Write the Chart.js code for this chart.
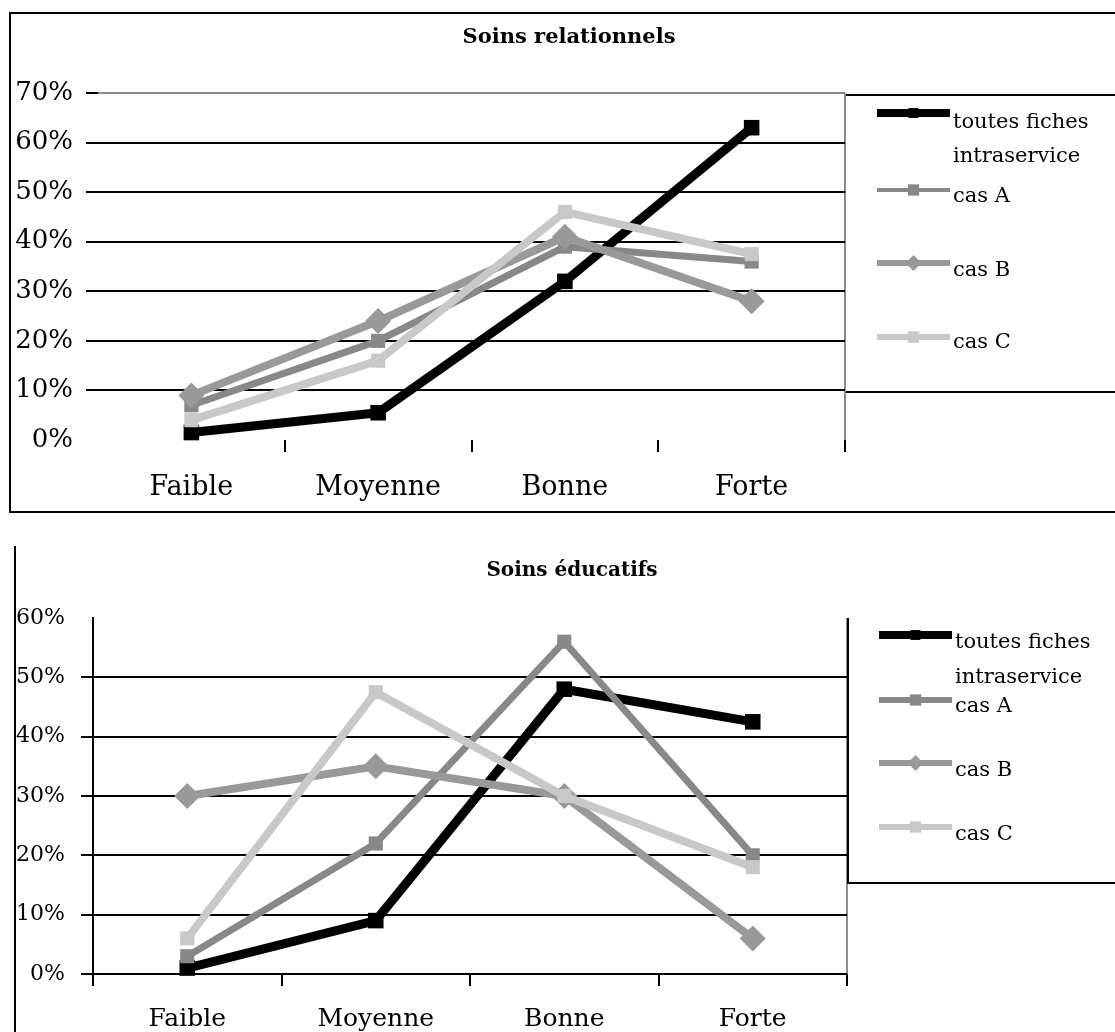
<!DOCTYPE html>
<html>
<head>
<meta charset="utf-8">
<title>Soins relationnels / Soins éducatifs</title>
<script src="https://cdn.jsdelivr.net/npm/chart.js@4.4.1/dist/chart.umd.min.js"></script>
<style>
  html, body { margin: 0; padding: 0; background: #fff; width: 1115px; height: 1032px; overflow: hidden; }
  .box { position: absolute; }
  #frame1 { left: 9px; top: 12px; width: 1200px; height: 501px; border: 2px solid #000; box-sizing: border-box; pointer-events: none; }
  #frame2 { left: 14px; top: 546px; width: 2px; height: 486px; background: #000; pointer-events: none; }
  #wrap1 { left: 0; top: 0; width: 1115px; height: 520px; }
  #wrap2 { left: 0; top: 520px; width: 1115px; height: 512px; }
  canvas { display: block; }
</style>
</head>
<body>
<div id="wrap1" class="box"><canvas id="relChart" width="1115" height="520"></canvas></div>
<div id="wrap2" class="box"><canvas id="eduChart" width="1115" height="512"></canvas></div>
<div id="frame1" class="box"></div>
<div id="frame2" class="box"></div>
<script>
// Categories (niveau) shared by both charts
const categories = ['Faible', 'Moyenne', 'Bonne', 'Forte'];
const seriesNames = ['toutes fiches intraservice', 'cas A', 'cas B', 'cas C'];
const legendLines = [['toutes fiches', 'intraservice'], ['cas A'], ['cas B'], ['cas C']];

// Soins relationnels (%)
const relToutes = [1.5, 5.5, 32, 63];
const relCasA = [7, 20, 39, 36];
const relCasB = [9, 24, 41, 28];
const relCasC = [4, 16, 46, 37.5];
const relTicks = [0, 10, 20, 30, 40, 50, 60, 70];

// Soins éducatifs (%)
const eduToutes = [1, 9, 48, 42.5];
const eduCasA = [3, 22, 56, 20];
const eduCasB = [30, 35, 30, 6];
const eduCasC = [6, 47.5, 30, 18];
const eduTicks = [0, 10, 20, 30, 40, 50, 60];

const CLEAR = 'rgba(0,0,0,0)';
const EDGE = '#8a8a8a';

const seriesStyles = [
  { color: '#000000', width: 9, point: 'rect', radius: 11, legendWidth: 8, legendRadius: 7 },
  { color: '#888888', width: 7, point: 'rect', radius: 10, legendWidth: 4, legendRadius: 8 },
  { color: '#999999', width: 8, point: 'rectRot', radius: 13, legendWidth: 6, legendRadius: 8 },
  { color: '#c8c8c8', width: 8, point: 'rect', radius: 10, legendWidth: 6, legendRadius: 8 }
];

function drawMarker(ctx, style, x, y, r) {
  ctx.beginPath();
  if (style === 'rectRot') {
    ctx.moveTo(x, y - r); ctx.lineTo(x + r, y); ctx.lineTo(x, y + r); ctx.lineTo(x - r, y);
    ctx.closePath();
  } else {
    const s = r * Math.SQRT1_2;
    ctx.rect(x - s, y - s, 2 * s, 2 * s);
  }
  ctx.fill();
}

// Draws the chart title, the legend box and its entries
const sheetDecor = {
  id: 'sheetDecor',
  afterDraw(chart, args, o) {
    const ctx = chart.ctx;
    ctx.save();
    ctx.fillStyle = '#000';
    ctx.font = 'bold ' + o.titleSize + 'px "DejaVu Serif"';
    ctx.textAlign = 'center';
    ctx.textBaseline = 'middle';
    ctx.fillText(o.title, o.titleX, o.titleY);

    ctx.strokeStyle = '#000';
    ctx.lineWidth = 2;
    o.frameLines.forEach(([x1, y1, x2, y2]) => {
      ctx.beginPath(); ctx.moveTo(x1, y1); ctx.lineTo(x2, y2); ctx.stroke();
    });

    chart.data.datasets.forEach((ds, i) => {
      const st = seriesStyles[i];
      const row = o.rows[i];
      ctx.strokeStyle = ds.borderColor;
      ctx.fillStyle = ds.borderColor;
      ctx.lineWidth = (o.sampleWidths && o.sampleWidths[i]) || st.legendWidth;
      ctx.lineCap = 'butt';
      ctx.beginPath();
      ctx.moveTo(o.sampleX1, row.lineY);
      ctx.lineTo(o.sampleX2, row.lineY);
      ctx.stroke();
      drawMarker(ctx, ds.pointStyle, (o.sampleX1 + o.sampleX2) / 2, row.lineY, st.legendRadius);

      ctx.fillStyle = '#000';
      ctx.font = '21px "DejaVu Serif"';
      ctx.textAlign = 'left';
      ctx.textBaseline = 'middle';
      legendLines[i].forEach((txt, k) => ctx.fillText(txt, o.textX, row.textY[k]));
    });
    ctx.restore();
  }
};

function buildChart(canvasId, p) {
  const canvas = document.getElementById(canvasId);
  const W = canvas.width, H = canvas.height;
  return new Chart(canvas, {
    type: 'line',
    data: {
      labels: categories,
      datasets: p.values.map((vals, i) => ({
        label: seriesNames[i],
        data: vals,
        borderColor: seriesStyles[i].color,
        backgroundColor: seriesStyles[i].color,
        borderWidth: seriesStyles[i].width,
        borderJoinStyle: 'round',
        pointStyle: seriesStyles[i].point,
        pointRadius: seriesStyles[i].radius,
        pointBackgroundColor: seriesStyles[i].color,
        pointBorderColor: seriesStyles[i].color,
        pointBorderWidth: 0,
        tension: 0,
        fill: false,
        clip: false,
        order: 4 - i
      }))
    },
    options: {
      responsive: false,
      animation: false,
      devicePixelRatio: 1,
      layout: { padding: { left: 0, top: p.area.top, right: W - p.area.right, bottom: 0 } },
      plugins: {
        legend: { display: false },
        tooltip: { enabled: false },
        title: { display: false },
        sheetDecor: p.decor
      },
      scales: {
        x: {
          type: 'category',
          offset: true,
          border: { display: false },
          grid: {
            offset: true,
            drawOnChartArea: true,
            drawTicks: true,
            tickLength: 12,
            lineWidth: 2,
            color: c => (c.type === 'tick' ? CLEAR : EDGE),
            tickColor: p.xTickColor
          },
          ticks: {
            color: '#000',
            font: { family: 'DejaVu Serif', size: p.xFont },
            padding: p.xPad,
            maxRotation: 0,
            autoSkip: false
          },
          afterFit: s => { s.height = H - p.area.bottom; }
        },
        y: {
          min: p.ticks[0],
          max: p.ticks[p.ticks.length - 1],
          border: p.yBorder,
          grid: {
            lineWidth: 2,
            tickLength: 12,
            color: p.yGridColor,
            tickColor: p.yTickColor
          },
          ticks: {
            stepSize: p.ticks[1] - p.ticks[0],
            color: '#000',
            font: { family: 'DejaVu Serif', size: p.yFont },
            padding: p.yPad,
            callback: v => v + '%'
          },
          afterFit: s => { s.width = p.area.left; }
        }
      }
    },
    plugins: [sheetDecor]
  });
}

// Soins relationnels
buildChart('relChart', {
  values: [relToutes, relCasA, relCasB, relCasC],
  ticks: relTicks,
  area: { left: 98, right: 845, top: 93, bottom: 440 },
  xFont: 27, xPad: 20, yFont: 26, yPad: 13,
  xTickColor: c => (c.type === 'tick' && c.index === 0 ? CLEAR : '#000'),
  yGridColor: c => (c.tick.value === 0 ? CLEAR : (c.tick.value === 70 ? EDGE : '#000')),
  yTickColor: c => (c.tick.value === 0 ? CLEAR : '#000'),
  yBorder: { display: false },
  decor: {
    title: 'Soins relationnels', titleSize: 21, titleX: 569, titleY: 38,
    frameLines: [[846, 95, 1115, 95], [846, 392, 1115, 392]],
    sampleX1: 877, sampleX2: 950, textX: 953,
    rows: [
      { lineY: 113, textY: [123, 157] },
      { lineY: 190, textY: [197] },
      { lineY: 263, textY: [271] },
      { lineY: 337, textY: [343] }
    ]
  }
});

// Soins éducatifs
buildChart('eduChart', {
  values: [eduToutes, eduCasA, eduCasB, eduCasC],
  ticks: eduTicks,
  area: { left: 93, right: 847, top: 98, bottom: 454 },
  xFont: 25, xPad: 18, yFont: 22, yPad: 16,
  xTickColor: () => '#000',
  yGridColor: c => (c.tick.value === 60 ? CLEAR : '#000'),
  yTickColor: c => (c.tick.value === 60 ? CLEAR : '#000'),
  yBorder: { display: true, color: '#000', width: 2 },
  decor: {
    title: 'Soins éducatifs', titleSize: 20, titleX: 572, titleY: 51,
    frameLines: [[848, 98, 848, 363], [847, 363, 1115, 363]],
    sampleX1: 879, sampleX2: 952, textX: 955,
    sampleWidths: [8, 6, 6, 6],
    rows: [
      { lineY: 115, textY: [123, 158] },
      { lineY: 180, textY: [187] },
      { lineY: 243, textY: [251] },
      { lineY: 307, textY: [315] }
    ]
  }
});
</script>
</body>
</html>
